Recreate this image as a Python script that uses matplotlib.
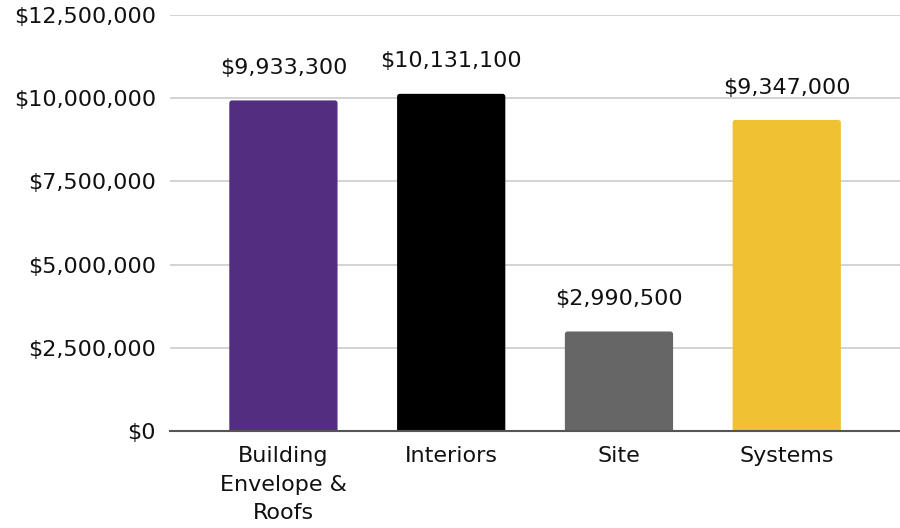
import matplotlib
matplotlib.use("Agg")
import matplotlib.pyplot as plt
from matplotlib.patches import FancyBboxPatch
from matplotlib.ticker import FuncFormatter

categories = ["Building\nEnvelope &\nRoofs", "Interiors", "Site", "Systems"]
values = [9933300, 10131100, 2990500, 9347000]
colors = ["#522D80", "#000000", "#666666", "#F0C133"]
yticks = [0, 2500000, 5000000, 7500000, 10000000, 12500000]

plt.rcParams["font.family"] = ["DejaVu Sans"]

fig = plt.figure(figsize=(9.0, 5.28), dpi=100)
ax = fig.add_axes([170 / 900, 1 - 431 / 528, 1 - 170 / 900, (431 - 15) / 528])

ax.set_xlim(-0.676, 3.675)
ax.set_ylim(0, 12500000)

x = list(range(len(categories)))
bars = ax.bar(x, values, width=0.645, color=colors, zorder=3)

# Swap the plain rectangles for ones with slightly rounded top corners;
# the bottom is extended below zero so its rounding is clipped by the axes.
r_x = 0.016
r_y = 80000
for rect, c in zip(bars, colors):
    x0, w, h = rect.get_x(), rect.get_width(), rect.get_height()
    rect.set_visible(False)
    patch = FancyBboxPatch((x0, -r_y), w, h + r_y,
                           boxstyle=f"round,pad=0,rounding_size={r_x}",
                           mutation_aspect=r_y / r_x,
                           facecolor=c, edgecolor="none", zorder=3)
    ax.add_patch(patch)

for xi, v in zip(x, values):
    ax.annotate(f"${v:,.0f}", xy=(xi, v), xytext=(0, 19), textcoords="offset points",
                ha="center", va="baseline", fontsize=16, color="#111111")

ax.set_yticks(yticks)
ax.yaxis.set_major_formatter(FuncFormatter(lambda v, p: f"${v:,.0f}"))
ax.set_xticks(x)
ax.set_xticklabels(categories, linespacing=1.52)

ax.tick_params(axis="y", length=0, pad=10, labelsize=16, labelcolor="#111111")
ax.tick_params(axis="x", length=0, pad=11, labelsize=16, labelcolor="#111111")

ax.grid(axis="y", color="#cccccc", linewidth=1.2, zorder=0)
ax.grid(axis="x", visible=False)
for s in ["top", "right", "left"]:
    ax.spines[s].set_visible(False)
ax.spines["bottom"].set_color("#555555")
ax.spines["bottom"].set_linewidth(1.5)
ax.spines["bottom"].set_zorder(4)

fig.savefig("out.png", dpi=100)
